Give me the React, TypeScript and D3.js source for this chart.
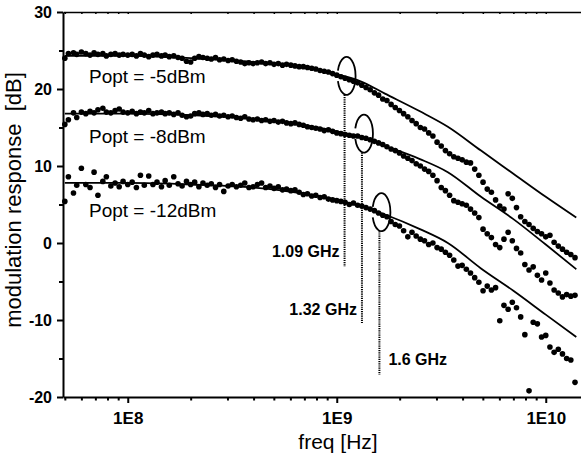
import React, { useEffect, useRef } from "react";
import * as d3 from "d3";

// measured frequency grid, MHz
const freqMHz = [
  50, 52, 55, 57, 60, 63, 66, 69, 72, 76, 79, 83, 87, 91, 95,
  100, 105, 110, 115, 120, 126, 132, 138, 145, 151, 158, 166, 174, 182, 191,
  200, 209, 219, 229, 240, 251, 263, 275, 288, 302, 316, 331, 347, 363, 380,
  398, 417, 437, 457, 479, 501, 525, 550, 575, 603, 631, 661, 692, 724, 759,
  794, 832, 871, 912, 955, 1000, 1047, 1096, 1148, 1202, 1259, 1318, 1380, 1445, 1514,
  1585, 1660, 1738, 1820, 1905, 1995, 2089, 2188, 2291, 2399, 2512, 2630, 2754, 2884, 3020,
  3162, 3311, 3467, 3631, 3802, 3981, 4169, 4365, 4571, 4786, 5012, 5248, 5495, 5754, 6026,
  6310, 6607, 6918, 7244, 7586, 7943, 8318, 8710, 9120, 9550, 10000, 10471, 10965, 11482, 12023,
  12589, 13183, 13804,
];

// measured response, dB
const dotsM5 = [
  24.0, 24.6, 24.7, 24.5, 24.8, 24.6, 24.4, 24.7, 24.5, 24.6, 24.3, 24.5, 24.6, 24.4, 24.5,
  24.4, 24.5, 24.3, 24.6, 24.4, 24.2, 24.4, 24.5, 24.3, 24.4, 24.2, 24.3, 24.1, 24.0, 23.6,
  23.5, 24.0, 24.2, 24.1, 24.0, 23.9, 24.1, 23.8, 23.9, 23.7, 23.8, 23.6, 23.5, 23.3, 23.4,
  23.3, 23.4, 23.5, 23.3, 23.4, 23.2, 23.3, 23.1, 23.2, 23.1, 23.0, 22.9, 22.9, 22.8, 22.7,
  22.6, 22.4, 22.3, 22.2, 22.0, 21.8, 21.6, 21.4, 21.2, 21.0, 20.8, 20.5, 20.2, 19.9, 19.5,
  19.2, 18.7, 18.5, 18.0, 17.6, 17.2, 16.8, 16.4, 15.9, 15.5, 15.0, 14.8, 14.3, 13.9, 13.1,
  12.6, 12.0, 11.6, 11.2, 11.0, 10.8, 10.5, 10.4, 9.6, 8.8, 7.9, 7.0, 6.6, 5.6, 4.8,
  4.4, 6.4, 5.8, 4.6, 3.4, 2.8, 2.4, 1.9, 1.5, 1.2, 0.8, 1.0, 0.1, -0.4, -0.8,
  -1.2, -1.5, -1.9,
];
const dotsM8 = [
  15.4, 16.0, 16.9, 16.3, 17.0, 16.8, 17.1, 16.9, 17.3, 17.5, 17.0, 16.9, 17.2, 17.4, 17.0,
  16.9, 17.1, 16.8, 17.0, 16.9, 17.2, 16.8, 16.9, 17.0, 16.8, 16.9, 16.7, 16.9, 16.6, 16.4,
  16.5, 16.8, 16.9, 16.7, 16.8, 16.6, 16.7, 16.5, 16.6, 16.4, 16.5, 16.3, 16.2, 16.4, 16.1,
  16.0, 16.1, 15.9, 16.0, 15.8, 15.9, 15.7, 15.8, 15.6, 15.5, 15.6, 15.4, 15.3, 15.1, 15.0,
  14.9, 14.8, 14.6, 14.7, 14.5, 14.3, 14.2, 14.1, 14.0, 13.9, 13.9, 13.7, 13.6, 13.4, 13.2,
  13.0, 12.8, 12.5, 12.2, 12.0, 11.7, 11.3, 11.0, 10.7, 10.3, 10.0, 9.6, 9.3, 8.8, 8.1,
  7.2, 6.8, 6.2, 5.5, 5.3, 5.1, 4.9, 4.4, 3.9, 3.3, 1.8, 1.2, 0.7, -0.2, -0.6,
  0.5, 1.4, 0.3, -0.7, -1.3, -2.8, -3.5, -3.1, -4.2, -4.8, -3.9, -5.2, -6.1, -6.5, -7.0,
  -6.7, -6.9, -6.8,
];
const dotsM12 = [
  5.4, 8.6, 6.5, 7.5, 9.7, 7.6, 7.2, 9.2, 6.2, 8.0, 8.6, 7.4, 7.8, 7.3, 8.0,
  7.6, 7.9, 7.2, 8.8, 7.5, 8.7, 7.6, 7.9, 7.3, 8.1, 7.5, 8.6, 7.7, 7.4, 8.0,
  7.6, 7.9, 7.3, 7.8, 7.5, 7.7, 7.2, 7.6, 6.7, 7.4, 7.6, 7.3, 7.5, 7.8, 7.2,
  7.3, 7.6, 7.8, 7.2, 7.4, 7.1, 7.3, 6.9, 7.0, 6.8, 6.9, 6.6, 6.3, 6.4, 6.1,
  6.2, 5.9, 6.0, 5.7, 5.6, 5.5, 5.4, 5.3, 5.0, 5.2, 4.9, 4.8, 4.6, 4.4, 4.2,
  3.9, 3.6, 3.4, 2.8, 2.4, 2.2, 1.6, 0.8, 1.4, 0.9, 0.5, 0.3, -0.2, 0.0, -0.6,
  -0.8, -1.2, -1.6, -2.2, -3.0, -2.9, -3.4, -3.9, -4.5, -5.1, -6.2, -5.6, -6.1, -5.8, -10.1,
  -8.1, -8.6, -7.7, -8.4, -9.6, -11.9, -19.2, -10.3, -10.5, -12.2, -12.0, -13.5, -14.2, -13.8, -14.4,
  -15.0, -15.2, -18.1,
];

// fitted curves
const fitFreqMHz = [50, 100, 200, 400, 700, 1000, 1300, 1700, 2500, 3400, 4900, 7000, 10000, 14000];
const fitM5 = [24.3, 24.3, 24.0, 23.5, 22.8, 21.9, 21.0, 19.4, 17.1, 15.1, 12.0, 9.0, 6.0, 3.3];
const fitM8 = [16.8, 16.8, 16.6, 16.1, 15.3, 14.5, 13.8, 12.6, 10.9, 9.2, 6.0, 3.1, -0.2, -3.4];
const fitM12 = [7.8, 7.8, 7.6, 7.2, 6.4, 5.6, 4.8, 3.7, 1.8, 0.0, -3.3, -6.2, -9.3, -12.2];

const seriesLabels = ["Popt = -5dBm", "Popt = -8dBm", "Popt = -12dBm"];
const markerGHz = [1.09, 1.32, 1.6];
const markerLabels = ["1.09 GHz", "1.32 GHz", "1.6 GHz"];
const markerCenterDb = [21.7, 14.2, 4.0];
const markerEndDb = [-3.1, -10.4, -17.1];

const yMajor = [-20, -10, 0, 10, 20, 30];
const yMinor = [-15, -5, 5, 15, 25];
const xMajor = [1e8, 1e9, 1e10];
const xTickLabels = ["1E8", "1E9", "1E10"];

const W = 581;
const H = 459;
const FONT = "'Liberation Sans', Arial, Helvetica, sans-serif";

const x = d3.scaleLog().domain([4.9e7, 2.0e10]).range([63, 63 + 209 * Math.log10(2.0e10 / 4.9e7)]);
const y = d3.scaleLinear().domain([-20, 30]).range([397, 12]);

const App = () => {
  const axesRef = useRef<SVGGElement>(null);

  useEffect(() => {
    const g = d3.select(axesRef.current);
    g.selectAll("*").remove();
    const minorX = x.ticks().filter((d) => !xMajor.includes(d));

    // left axis
    const left = g.append("g").attr("transform", `translate(${x.range()[0]},0)`);
    left.call(
      d3.axisLeft(y).tickValues(yMajor).tickSize(6).tickSizeOuter(0).tickPadding(5)
        .tickFormat((d) => String(d))
    );
    left.append("g").call(d3.axisLeft(y).tickValues(yMinor).tickSize(4).tickFormat(() => ""))
      .select(".domain").remove();

    // bottom axis
    const bottom = g.append("g").attr("transform", `translate(0,${y.range()[0]})`);
    bottom.call(
      d3.axisBottom(x).tickValues(xMajor).tickSize(6).tickSizeOuter(0).tickPadding(9)
        .tickFormat((d, i) => xTickLabels[i])
    );
    bottom.append("g").call(d3.axisBottom(x).tickValues(minorX).tickSize(3.5).tickFormat(() => ""))
      .select(".domain").remove();

    // top frame with small inner ticks
    const top = g.append("g").attr("transform", `translate(0,${y.range()[1]})`);
    top.call(d3.axisTop(x).tickValues(x.ticks()).tickSizeInner(-2).tickSizeOuter(0).tickFormat(() => ""));
    top.select(".domain").attr("stroke-width", 1.5);

    g.selectAll(".domain, .tick line").attr("stroke", "#000");
    left.select(".domain").attr("stroke-width", 2);
    bottom.select(".domain").attr("stroke-width", 2);
    left.selectAll(".tick line").attr("stroke-width", 2);
    bottom.selectAll(".tick line").attr("stroke-width", 2);
    top.selectAll(".tick line").attr("stroke-width", 1.5);
    g.selectAll(".tick text")
      .attr("fill", "#000")
      .style("font-family", FONT)
      .style("font-size", "16px")
      .style("font-weight", "bold");
    bottom.selectAll(".tick text").style("font-size", "17px");
  }, []);

  const series = [dotsM5, dotsM8, dotsM12];
  const fits = [fitM5, fitM8, fitM12];
  const line = d3.line<number>()
    .x((d, i) => x(fitFreqMHz[i] * 1e6))
    .y((d) => y(d))
    .curve(d3.curveMonotoneX);

  const loop = (cx: number, cy: number, rx: number, ry: number) => {
    const p = (deg: number) => {
      const a = (deg * Math.PI) / 180;
      return `${cx + rx * Math.cos(a)},${cy + ry * Math.sin(a)}`;
    };
    return `M${p(196)} A${rx},${ry} 0 1 1 ${p(164)}`;
  };

  const labelY = [y(24.5) + 29, y(16.8) + 29, y(7.6) + 33];

  return (
    <svg width={W} height={H} style={{ position: "absolute", left: 0, top: 0, background: "#fff" }}
      fontFamily={FONT}>
      {series.map((s, si) => (
        <g key={"s" + si}>
          {s.map((v, i) => (
            <circle key={i} cx={x(freqMHz[i] * 1e6)} cy={y(v)} r={2.8} fill="#000" />
          ))}
        </g>
      ))}
      {fits.map((f, si) => (
        <path key={"f" + si} d={line(f) || ""} fill="none" stroke="#000" strokeWidth={1.8} />
      ))}
      {seriesLabels.map((t, i) => (
        <text key={"l" + i} x={89} y={labelY[i]} fontSize={19} fill="#000">{t}</text>
      ))}
      {markerGHz.map((f, i) => {
        const mx = x(f * 1e9);
        const cy = y(markerCenterDb[i]);
        const yEnd = y(markerEndDb[i]);
        return (
          <g key={"m" + i}>
            <path d={loop(mx + 2, cy, 9, 19)} fill="none" stroke="#000" strokeWidth={1.8} />
            <line x1={mx} x2={mx} y1={cy + 19} y2={yEnd} stroke="#000" strokeWidth={2}
              strokeDasharray="1.2 1" />
            <text
              x={i === 2 ? mx + 9 : mx - 5}
              y={yEnd - (i === 1 ? 8 : 10)}
              textAnchor={i === 2 ? "start" : "end"}
              fontSize={16}
              fontWeight="bold"
              fill="#000"
            >
              {markerLabels[i]}
            </text>
          </g>
        );
      })}
      <g ref={axesRef} />
      <text x={338} y={449} textAnchor="middle" fontSize={21} fill="#000">freq [Hz]</text>
      <text transform="translate(21,200) rotate(-90)" textAnchor="middle" fontSize={22} fill="#000"
        style={{ whiteSpace: "pre" }}>
        {"modulation response  [dB]"}
      </text>
    </svg>
  );
};

export default App;
